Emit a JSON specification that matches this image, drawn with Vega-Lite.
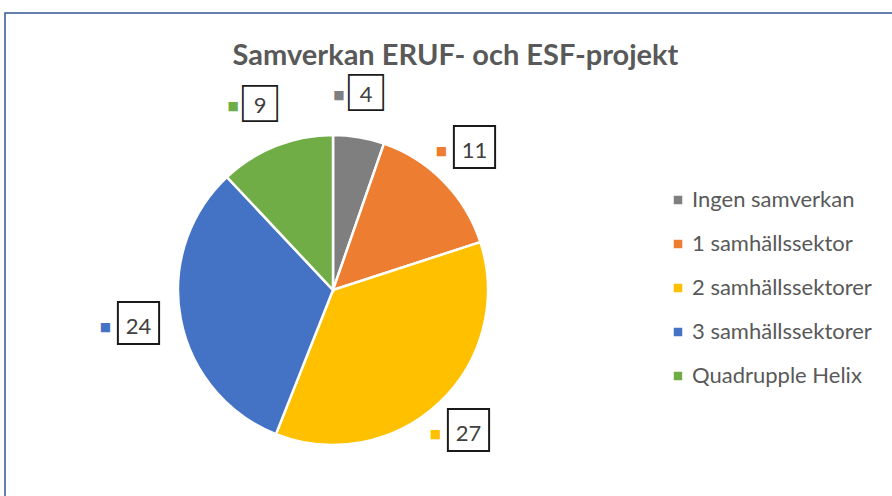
{
  "$schema": "https://vega.github.io/schema/vega-lite/v6.json",
  "width": 893,
  "height": 489,
  "autosize": {"type": "none"},
  "padding": {"left": 5, "top": 13, "right": -6, "bottom": -6},
  "background": "white",
  "view": {"stroke": "#2F5597", "strokeWidth": 1.5, "fill": "white"},
  "config": {
    "font": "Lato"
  },
  "title": {
    "text": "Samverkan ERUF- och ESF-projekt",
    "font": "Lato",
    "fontSize": 29,
    "fontWeight": "bold",
    "color": "#595959",
    "anchor": "middle",
    "baseline": "alphabetic",
    "offset": -52,
    "dy": 29,
    "dx": 4
  },
  "data": {
    "values": [
      {"nr": 1, "kategori": "Ingen samverkan", "antal": 4},
      {"nr": 2, "kategori": "1 samhällssektor", "antal": 11},
      {"nr": 3, "kategori": "2 samhällssektorer", "antal": 27},
      {"nr": 4, "kategori": "3 samhällssektorer", "antal": 24},
      {"nr": 5, "kategori": "Quadrupple Helix", "antal": 9}
    ]
  },
  "encoding": {
    "theta": {"field": "antal", "type": "quantitative", "stack": true},
    "order": {"field": "nr", "type": "quantitative"}
  },
  "layer": [
    {
      "mark": {"type": "arc", "outerRadius": 155, "stroke": "white", "strokeWidth": 2.5, "x": 328, "y": 277},
      "encoding": {
        "color": {
          "field": "kategori",
          "type": "nominal",
          "scale": {
            "domain": ["Ingen samverkan", "1 samhällssektor", "2 samhällssektorer", "3 samhällssektorer", "Quadrupple Helix"],
            "range": ["#7F7F7F", "#ED7D31", "#FFC000", "#4472C4", "#70AD47"]
          },
          "legend": {
            "title": null,
            "orient": "none",
            "legendX": 662,
            "legendY": 176,
            "symbolType": "square",
            "symbolSize": 72,
            "symbolStrokeWidth": 0,
            "labelFont": "Lato",
            "labelFontSize": 22,
            "labelColor": "#595959",
            "labelOffset": 3,
            "labelLimit": 400,
            "rowPadding": 22,
            "padding": 0
          }
        }
      }
    },
    {
      "mark": {"type": "text", "radius": 198, "x": 328, "y": 277, "font": "Noto Sans CJK SC", "align": "center", "baseline": "middle", "color": "#1a1a1a", "dy": 1},
      "encoding": {
        "text": {"value": "□"},
        "size": {"condition": {"test": "datum.antal >= 10", "value": 54}, "value": 45}
      }
    },
    {
      "mark": {"type": "text", "radius": 198, "x": 328, "y": 277, "font": "Lato", "fontSize": 22, "align": "center", "baseline": "middle", "color": "#404040"},
      "encoding": {
        "text": {"field": "antal", "type": "quantitative"}
      }
    },
    {
      "mark": {"type": "text", "radius": 198, "x": 328, "y": 277, "font": "DejaVu Sans", "fontSize": 12, "align": "center", "baseline": "middle", "dx": -27},
      "encoding": {
        "text": {"value": "■"},
        "color": {"field": "kategori", "type": "nominal"},
        "opacity": {"condition": {"test": "datum.antal < 10", "value": 1}, "value": 0}
      }
    },
    {
      "mark": {"type": "text", "radius": 198, "x": 328, "y": 277, "font": "DejaVu Sans", "fontSize": 12, "align": "center", "baseline": "middle", "dx": -33},
      "encoding": {
        "text": {"value": "■"},
        "color": {"field": "kategori", "type": "nominal"},
        "opacity": {"condition": {"test": "datum.antal >= 10", "value": 1}, "value": 0}
      }
    }
  ]
}
